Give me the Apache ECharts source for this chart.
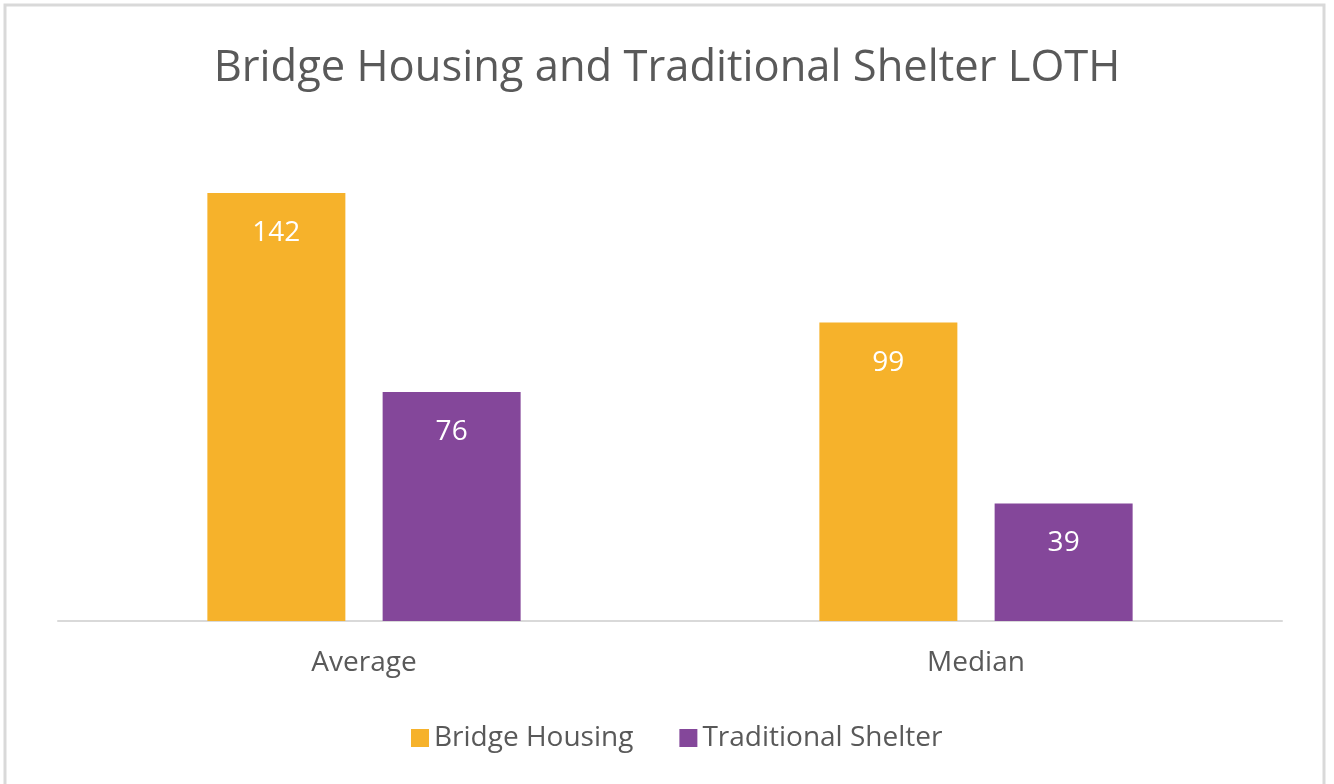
<!DOCTYPE html>
<html><head><meta charset="utf-8">
<script src="https://cdn.jsdelivr.net/npm/echarts@6/dist/echarts.min.js"></script>
<style>html,body{margin:0;padding:0;background:#fff}#c{width:1334px;height:784px}</style>
</head><body><div id="c"></div>
<script>
const categories = ['Average', 'Median'];
const bridgeHousing = [142, 99];
const traditionalShelter = [76, 39];
const seriesNames = ['Bridge Housing', 'Traditional Shelter'];

const chart = echarts.init(document.getElementById('c'));
const font = 'Open Sans';
chart.setOption({
  animation: false,
  backgroundColor: '#fff',
  title: {
    text: 'Bridge Housing and Traditional Shelter LOTH',
    left: 'center', top: 42,
    textStyle: { fontFamily: font, fontSize: 43.5, fontWeight: 'normal', color: '#595959' }
  },
  graphic: [{
    type: 'rect', shape: { x: 5, y: 5, width: 1319, height: 800 },
    style: { fill: 'none', stroke: '#d9d9d9', lineWidth: 3 }, silent: true
  }],
  legend: {
    top: 719, left: 406, itemWidth: 18, itemHeight: 18, itemGap: 46,
    icon: 'rect',
    textStyle: { fontFamily: font, fontSize: 28, color: '#595959' },
    data: seriesNames
  },
  grid: { left: 58, right: 52, top: 138.7, bottom: 163, containLabel: false },
  xAxis: {
    type: 'category', data: categories,
    axisLine: { lineStyle: { color: '#d9d9d9', width: 2 } },
    axisTick: { show: false },
    axisLabel: { fontFamily: font, fontSize: 28, color: '#595959', margin: 28 }
  },
  yAxis: { type: 'value', min: 0, max: 160, show: false, splitLine: { show: false } },
  series: [
    { name: seriesNames[0], type: 'bar', data: bridgeHousing, barWidth: 138, barGap: '27%',
      itemStyle: { color: '#F6B22B' },
      label: { show: true, position: 'insideTop', distance: 26, color: '#fff', fontFamily: font, fontSize: 28 } },
    { name: seriesNames[1], type: 'bar', data: traditionalShelter, barWidth: 138,
      itemStyle: { color: '#84479A' },
      label: { show: true, position: 'insideTop', distance: 26, color: '#fff', fontFamily: font, fontSize: 28 } }
  ]
});
</script></body></html>
